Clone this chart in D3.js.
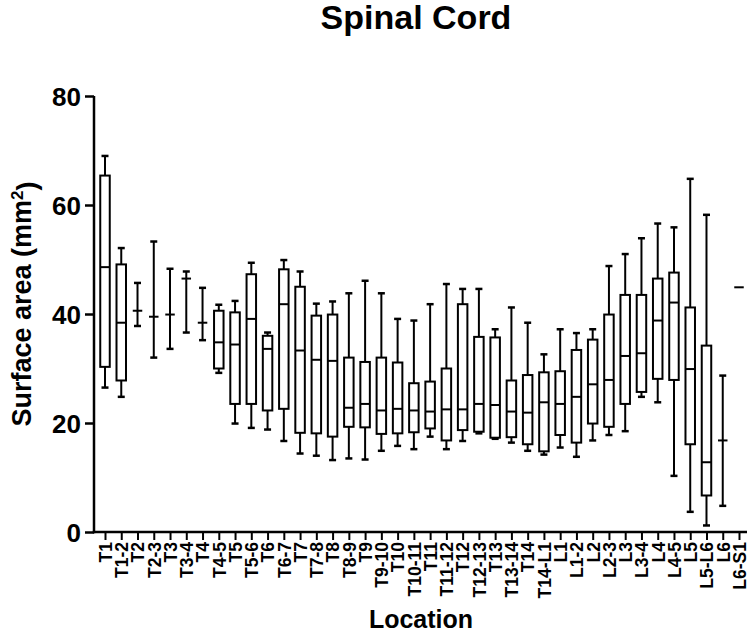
<!DOCTYPE html>
<html><head><meta charset="utf-8">
<script src="https://cdn.jsdelivr.net/npm/d3@7"></script>
<style>body{margin:0;background:#fff}svg{display:block}text{font-family:"Liberation Sans",Arial,sans-serif;font-weight:bold;fill:#000}</style>
</head><body>
<svg id="chart" width="750" height="633"></svg>
<script>
const categories = ["T1","T1-2","T2","T2-3","T3","T3-4","T4","T4-5","T5","T5-6","T6","T6-7","T7","T7-8","T8","T8-9","T9","T9-10","T10","T10-11","T11","T11-12","T12","T12-13","T13","T13-14","T14","T14-L1","L1","L1-2","L2","L2-3","L3","L3-4","L4","L4-5","L5","L5-L6","L6","L6-S1"];
const mins    = [26.5,24.8,37.8,32.0,33.6,36.6,35.2,29.2,19.9,19.1,18.8,16.7,14.4,14.0,13.2,13.5,13.3,14.9,15.8,15.2,17.5,15.2,16.7,18.1,17.1,16.4,14.9,14.2,15.5,13.8,16.8,17.8,18.5,24.8,23.8,10.3,3.7,1.2,4.8,44.9];
const q1s     = [30.3,27.8,40.6,39.5,39.9,46.5,38.4,30.0,23.5,23.5,22.3,22.6,18.2,18.1,17.5,19.3,19.2,18.0,18.1,18.3,19.0,16.8,18.7,18.4,17.3,17.4,16.1,14.8,17.8,16.4,19.9,19.3,23.5,25.7,28.1,27.9,16.1,6.7,16.8,44.9];
const medians = [48.6,38.4,40.6,39.5,39.9,46.5,38.4,34.8,34.4,39.1,33.6,41.8,33.3,31.6,31.4,22.8,23.5,22.3,22.6,22.3,22.1,22.5,22.5,23.5,23.3,22.1,21.9,23.8,23.5,24.8,27.1,27.9,32.3,32.8,38.8,42.1,29.9,12.8,16.8,44.9];
const q3s     = [65.4,49.1,40.6,39.5,39.9,46.5,38.4,40.6,40.3,47.3,36.0,48.2,45.0,39.7,39.9,32.0,31.2,32.0,31.1,27.3,27.6,30.0,41.8,35.8,35.7,27.8,28.8,29.3,29.5,33.4,35.3,39.9,43.5,43.5,46.5,47.6,41.2,34.2,16.8,44.9];
const maxs    = [69.0,52.1,45.7,53.3,48.3,47.8,44.8,41.7,42.4,49.4,36.6,49.9,47.8,41.9,42.3,43.8,46.1,43.8,39.1,38.8,41.8,45.5,44.6,44.6,37.2,41.2,38.4,32.6,37.2,36.5,37.2,48.8,51.0,53.9,56.6,55.9,64.8,58.2,28.7,44.9];
const yTicks = [0,20,40,60,80];

const svg = d3.select("#chart");
const x = d3.scalePoint().domain(categories).range([105, 739]);
const y = d3.scaleLinear().domain([0, 80]).range([532, 96]);
const data = categories.map((c,i)=>({c, min:mins[i], q1:q1s[i], med:medians[i], q3:q3s[i], max:maxs[i]}));

const boxW = 9.5, capW = 7;
const g = svg.append("g").attr("stroke","#000").attr("fill","none");
data.forEach(d=>{
  const cx = x(d.c);
  if (d.max > d.min) {
    g.append("line").attr("x1",cx).attr("x2",cx).attr("y1",y(d.max)).attr("y2",y(d.q3)).attr("stroke-width",2);
    g.append("line").attr("x1",cx).attr("x2",cx).attr("y1",y(d.q1)).attr("y2",y(d.min)).attr("stroke-width",2);
    g.append("line").attr("x1",cx-capW/2).attr("x2",cx+capW/2).attr("y1",y(d.max)).attr("y2",y(d.max)).attr("stroke-width",2.5);
    g.append("line").attr("x1",cx-capW/2).attr("x2",cx+capW/2).attr("y1",y(d.min)).attr("y2",y(d.min)).attr("stroke-width",2.5);
  }
  if (d.q3 > d.q1) {
    g.append("rect").attr("x",cx-boxW/2).attr("width",boxW).attr("y",y(d.q3)).attr("height",y(d.q1)-y(d.q3)).attr("stroke-width",2);
  }
  g.append("line").attr("x1",cx-boxW/2).attr("x2",cx+boxW/2).attr("y1",y(d.med)).attr("y2",y(d.med)).attr("stroke-width",2);
});

// Y axis
const yAxis = svg.append("g").attr("transform","translate(94,0)")
  .call(d3.axisLeft(y).tickValues(yTicks).tickSize(9).tickSizeOuter(0).tickPadding(4));
yAxis.select(".domain").attr("stroke-width",2.5).attr("d","M0,"+y(80)+"V"+(y(0)+1.25));
yAxis.selectAll(".tick line").attr("stroke-width",2.5);
yAxis.selectAll(".tick text").style("font-size","26px").style("font-family","Liberation Sans, Arial, sans-serif").style("font-weight","bold").attr("dy","0.36em");

// X axis
const xAxis = svg.append("g").attr("transform","translate(0,532)")
  .call(d3.axisBottom(x).tickSize(8).tickSizeOuter(0).tickPadding(2));
xAxis.select(".domain").attr("stroke-width",2.5).attr("d","M92.75,0H747");
xAxis.selectAll(".tick line").attr("stroke-width",2);
xAxis.selectAll(".tick text")
  .style("font-size","17.5px").style("font-family","Liberation Sans, Arial, sans-serif").style("font-weight","bold")
  .attr("transform","rotate(-90)").attr("text-anchor","end").attr("x",-10).attr("y",0).attr("dy","0.36em");

// Titles
svg.append("text").attr("x",416).attr("y",29).attr("text-anchor","middle").style("font-size","34px").text("Spinal Cord");
svg.append("text").attr("x",421).attr("y",628).attr("text-anchor","middle").style("font-size","25px").text("Location");
const yl = svg.append("text").attr("transform","translate(31,304) rotate(-90)").attr("text-anchor","middle").style("font-size","27px");
yl.append("tspan").text("Surface area (mm");
yl.append("tspan").attr("dy","-0.45em").style("font-size","17px").text("2");
yl.append("tspan").attr("dy","0.45em").text(")");
</script>
</body></html>
